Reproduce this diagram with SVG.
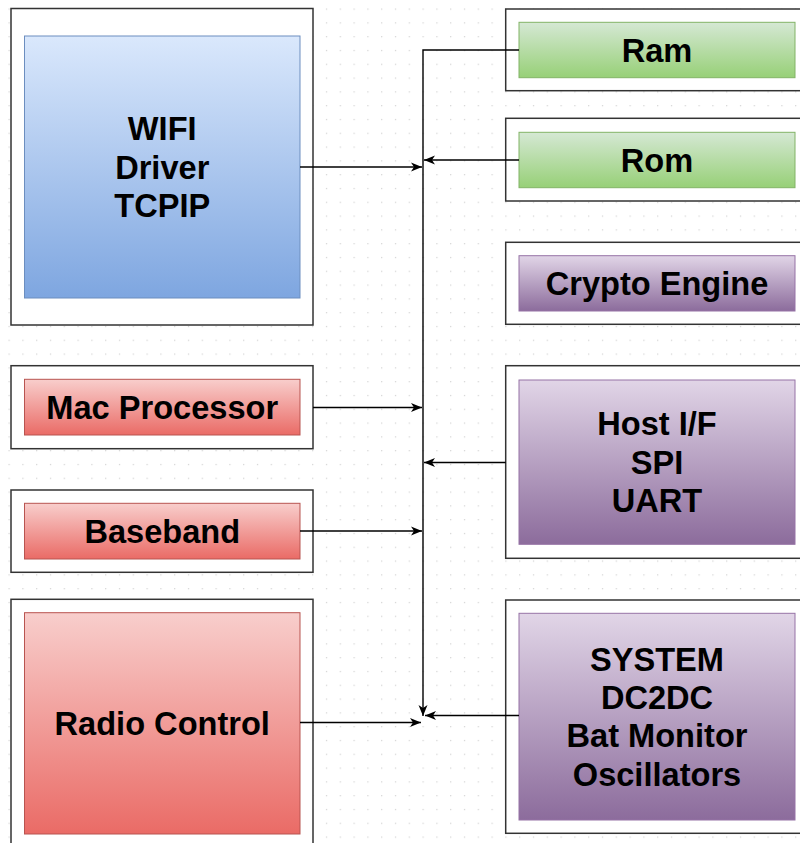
<svg xmlns="http://www.w3.org/2000/svg" width="800" height="843" viewBox="0 0 800 843">
<defs>
<pattern id="grid" x="8.5" y="8.5" width="13.8" height="13.8" patternUnits="userSpaceOnUse">
<rect x="0" y="0" width="1.2" height="1.2" fill="#d2d2d2"/>
</pattern>
<linearGradient id="gBlue" x1="0" y1="0" x2="0" y2="1"><stop offset="0" stop-color="#dae8fc"/><stop offset="1" stop-color="#7ea6e0"/></linearGradient>
<linearGradient id="gGreen" x1="0" y1="0" x2="0" y2="1"><stop offset="0" stop-color="#d5e8d4"/><stop offset="1" stop-color="#97d077"/></linearGradient>
<linearGradient id="gPurple" x1="0" y1="0" x2="0" y2="1"><stop offset="0" stop-color="#e1d5e7"/><stop offset="1" stop-color="#8c6c9c"/></linearGradient>
<linearGradient id="gRed" x1="0" y1="0" x2="0" y2="1"><stop offset="0" stop-color="#f8cecc"/><stop offset="1" stop-color="#ea6b66"/></linearGradient>
<marker id="arr" markerUnits="userSpaceOnUse" markerWidth="12" markerHeight="10" refX="11" refY="4.5" orient="auto" overflow="visible">
<path d="M0,0 L11,4.5 L0,9 L3,4.5 Z" fill="#000"/>
</marker>
</defs>
<style>
.outer{fill:#fff;stroke:#333;stroke-width:1.5}
.blue{fill:url(#gBlue);stroke:#6c8ebf;stroke-width:1}
.green{fill:url(#gGreen);stroke:#82b366;stroke-width:1}
.purple{fill:url(#gPurple);stroke:#9673a6;stroke-width:1}
.red{fill:url(#gRed);stroke:#b85450;stroke-width:1}
text{font-family:"Liberation Sans",Arial,sans-serif;font-weight:bold;font-size:32.6px;fill:#000;text-anchor:middle}
.conn path{fill:none;stroke:#000;stroke-width:1.4}
</style>
<rect width="800" height="843" fill="#fff"/>
<rect width="800" height="843" fill="url(#grid)"/>

<g id="wifi">
<rect class="outer" x="11" y="8.5" width="302" height="316.5"/>
<rect class="blue" x="24.5" y="36" width="275.5" height="262"/>
<text x="162.25" y="140">WIFI</text>
<text x="162.25" y="178.5">Driver</text>
<text x="162.25" y="217">TCPIP</text>
</g>

<g id="mac">
<rect class="outer" x="11" y="365.7" width="302" height="83"/>
<rect class="red" x="24.5" y="379.3" width="275.5" height="55.7"/>
<text x="162.25" y="418.7">Mac Processor</text>
</g>

<g id="baseband">
<rect class="outer" x="11" y="490" width="302" height="82.3"/>
<rect class="red" x="24.5" y="503.3" width="275.5" height="55.7"/>
<text x="162.25" y="542.7">Baseband</text>
</g>

<g id="radio">
<rect class="outer" x="11" y="599.3" width="302" height="250"/>
<rect class="red" x="24.5" y="612.7" width="275.5" height="221.3"/>
<text x="162.25" y="734.8">Radio Control</text>
</g>

<g id="ram">
<rect class="outer" x="505.7" y="9" width="302" height="81.7"/>
<rect class="green" x="519" y="22.3" width="276" height="55.4"/>
<text x="657" y="61.5">Ram</text>
</g>

<g id="rom">
<rect class="outer" x="505.7" y="118.3" width="302" height="82.7"/>
<rect class="green" x="519" y="132.3" width="276" height="55.4"/>
<text x="657" y="171.5">Rom</text>
</g>

<g id="crypto">
<rect class="outer" x="505.7" y="242.3" width="302" height="82"/>
<rect class="purple" x="519" y="255.7" width="276" height="55.3"/>
<text x="657" y="294.8">Crypto Engine</text>
</g>

<g id="host">
<rect class="outer" x="505.7" y="365.7" width="302" height="192.6"/>
<rect class="purple" x="519" y="380" width="276" height="164.3"/>
<text x="657" y="435.3">Host I/F</text>
<text x="657" y="473.7">SPI</text>
<text x="657" y="512.1">UART</text>
</g>

<g id="system">
<rect class="outer" x="505.7" y="600" width="302" height="233.3"/>
<rect class="purple" x="519" y="613.3" width="276" height="206.7"/>
<text x="657" y="670.6">SYSTEM</text>
<text x="657" y="709">DC2DC</text>
<text x="657" y="747.4">Bat Monitor</text>
<text x="657" y="785.8">Oscillators</text>
</g>

<g id="connectors" class="conn">
<path d="M300,167 H422" marker-end="url(#arr)"/>
<path d="M519,160 H424" marker-end="url(#arr)"/>
<path d="M519,50 H423 V716" marker-end="url(#arr)"/>
<path d="M313,407.5 H422" marker-end="url(#arr)"/>
<path d="M505.7,462.5 H424" marker-end="url(#arr)"/>
<path d="M300,531 H422" marker-end="url(#arr)"/>
<path d="M300,722.5 H421" marker-end="url(#arr)"/>
<path d="M519,715.5 H425" marker-end="url(#arr)"/>
</g>
</svg>
